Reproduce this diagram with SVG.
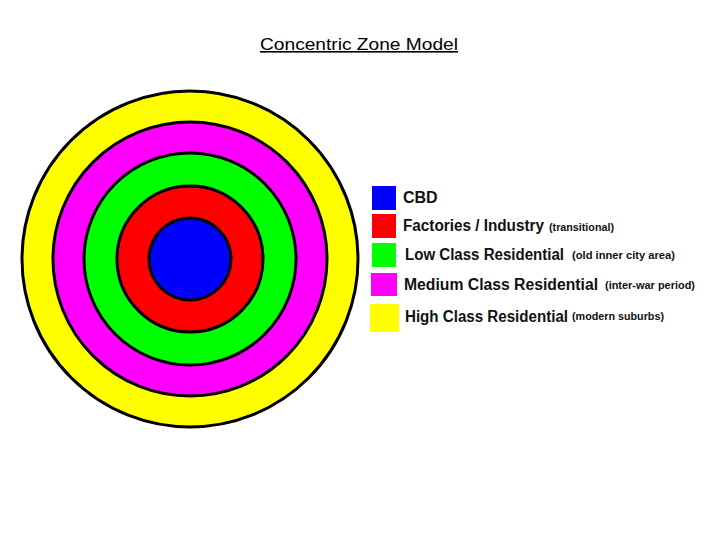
<svg xmlns="http://www.w3.org/2000/svg" width="720" height="540" viewBox="0 0 720 540">
<style>
.ring{stroke:#000;stroke-width:3}
.sw{stroke:none}
.lab{font-family:"Liberation Sans",Arial,sans-serif;font-weight:bold;font-size:16px;fill:#111}
.sub{font-family:"Liberation Sans",Arial,sans-serif;font-weight:bold;font-size:11px;fill:#111}
.title{font-family:"Liberation Sans",Arial,sans-serif;font-size:16px;fill:#000;text-decoration:underline}
</style>
<rect width="720" height="540" fill="#fff"/>
<text class="title" x="260" y="50" textLength="198" lengthAdjust="spacingAndGlyphs">Concentric Zone Model</text>
<g id="zones">
<circle id="zone-high" class="ring" cx="190" cy="259" r="168" fill="#ffff00"/>
<circle id="zone-medium" class="ring" cx="190" cy="259" r="137" fill="#ff00ff"/>
<circle id="zone-low" class="ring" cx="190" cy="259" r="106" fill="#00ff00"/>
<circle id="zone-factories" class="ring" cx="190" cy="259" r="73" fill="#ff0000"/>
<circle id="zone-cbd" class="ring" cx="190" cy="259" r="41" fill="#0000ff"/>
</g>
<g id="legend">
<g id="leg-cbd">
<rect class="sw" x="372" y="186" width="24" height="24" fill="#0000ff"/>
<text class="lab" x="403" y="203">CBD</text>
</g>
<g id="leg-factories">
<rect class="sw" x="372" y="214" width="24" height="24" fill="#ff0000"/>
<text class="lab" x="403" y="231" textLength="141" lengthAdjust="spacingAndGlyphs">Factories / Industry</text>
<text class="sub" x="549" y="231" textLength="65" lengthAdjust="spacingAndGlyphs">(transitional)</text>
</g>
<g id="leg-low">
<rect class="sw" x="372" y="243" width="24" height="24" fill="#00ff00"/>
<text class="lab" x="405" y="260" textLength="159" lengthAdjust="spacingAndGlyphs">Low Class Residential</text>
<text class="sub" x="572" y="259" textLength="103" lengthAdjust="spacingAndGlyphs">(old inner city area)</text>
</g>
<g id="leg-medium">
<rect class="sw" x="371" y="273" width="26" height="23" fill="#ff00ff"/>
<text class="lab" x="404" y="290" textLength="194" lengthAdjust="spacingAndGlyphs">Medium Class Residential</text>
<text class="sub" x="605" y="289" textLength="90" lengthAdjust="spacingAndGlyphs">(inter-war period)</text>
</g>
<g id="leg-high">
<rect class="sw" x="370" y="304" width="29" height="28" fill="#ffff00"/>
<text class="lab" x="405" y="322" textLength="163" lengthAdjust="spacingAndGlyphs">High Class Residential</text>
<text class="sub" x="572" y="320" textLength="92" lengthAdjust="spacingAndGlyphs">(modern suburbs)</text>
</g>
</g>
</svg>
